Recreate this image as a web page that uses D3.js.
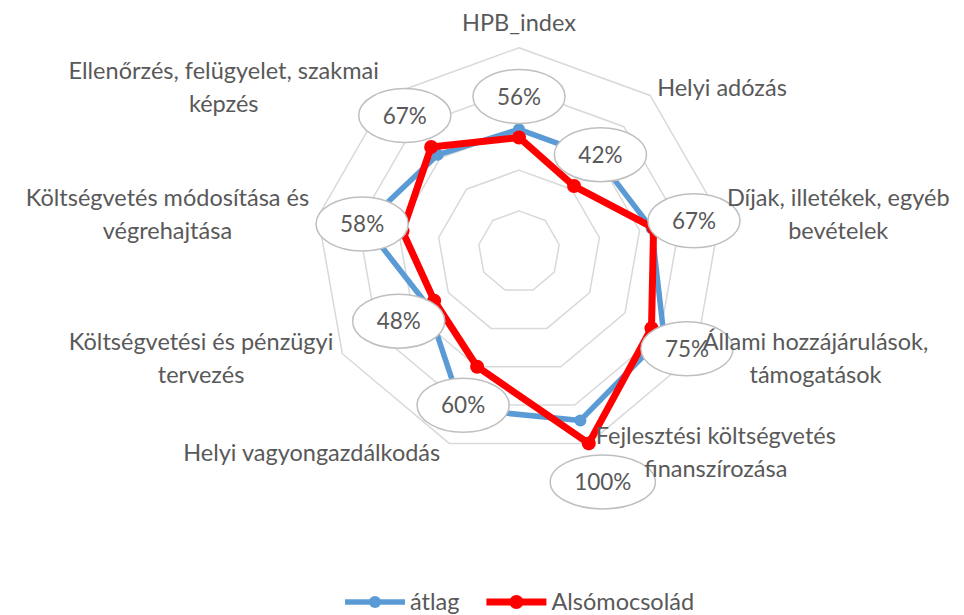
<!DOCTYPE html>
<html>
<head>
<meta charset="utf-8">
<style>
    body { margin: 0; background: #fff; }
    svg { display: block; }
    text { font-family: Lato, "Open Sans", sans-serif; fill: #595959; }
</style>
<script src="https://cdn.jsdelivr.net/npm/d3@7"></script>
</head>
<body>
<div id="chart"></div>
<script>
// categories, clockwise from the top
var categories = [
    ["HPB_index"],
    ["Helyi adózás"],
    ["Díjak, illetékek, egyéb", "bevételek"],
    ["Állami hozzájárulások,", "támogatások"],
    ["Fejlesztési költségvetés", "finanszírozása"],
    ["Helyi vagyongazdálkodás"],
    ["Költségvetési és pénzügyi", "tervezés"],
    ["Költségvetés módosítása és", "végrehajtása"],
    ["Ellenőrzés, felügyelet, szakmai", "képzés"]
];
var atlag = [0.60, 0.60, 0.66, 0.82, 0.88, 0.82, 0.52, 0.77, 0.62];
var alsomocsolad = [0.56, 0.42, 0.67, 0.75, 1.00, 0.60, 0.48, 0.58, 0.67];
var ringTicks = [0.2, 0.4, 0.6, 0.8, 1.0];
var seriesNames = ["átlag", "Alsómocsolád"];

var width = 964, height = 615;
var cx = 519, cy = 251.7, R = 204;
var labelSize = "23.5px", pctSize = "22.5px";

var svg = d3.select("#chart").append("svg")
    .attr("width", width)
    .attr("height", height);

var r = d3.scaleLinear().domain([0, 1]).range([0, R]);
var n = categories.length;
var angle = function (i) { return i * 2 * Math.PI / n; };

var g = svg.append("g").attr("transform", "translate(" + cx + "," + cy + ")");

// grid rings (nonagons)
var ringLine = d3.lineRadial()
    .angle(function (d, i) { return angle(i); })
    .radius(function (d) { return r(d); })
    .curve(d3.curveLinearClosed);

g.selectAll(".ring")
    .data(ringTicks)
    .enter().append("path")
    .attr("class", "ring")
    .attr("d", function (t) { return ringLine(d3.range(n).map(function () { return t; })); })
    .attr("fill", "none")
    .attr("stroke", "#d9d9d9")
    .attr("stroke-width", 1.5);

// series
var series = [
    { name: seriesNames[0], values: atlag, color: "#5b9bd5", lw: 5.5, mr: 6 },
    { name: seriesNames[1], values: alsomocsolad, color: "#ff0000", lw: 7, mr: 7 }
];

series.forEach(function (s) {
    g.append("path")
        .attr("d", ringLine(s.values))
        .attr("fill", "none")
        .attr("stroke", s.color)
        .attr("stroke-width", s.lw)
        .attr("stroke-linejoin", "round");
    g.selectAll(null)
        .data(s.values)
        .enter().append("circle")
        .attr("cx", function (d, i) { return r(d) * Math.sin(angle(i)); })
        .attr("cy", function (d, i) { return -r(d) * Math.cos(angle(i)); })
        .attr("r", s.mr)
        .attr("fill", s.color);
});

// data labels of the second series, in ellipses just outside the points
var fmt = d3.format(".0%");
var labels = g.selectAll(".dlabel")
    .data(alsomocsolad)
    .enter().append("g")
    .attr("class", "dlabel")
    .attr("transform", function (d, i) {
        var rr = r(d) + 41;
        return "translate(" + (rr * Math.sin(angle(i))) + "," + (-rr * Math.cos(angle(i))) + ")";
    });

labels.append("ellipse")
    .attr("fill", "#fff")
    .attr("stroke", "#bfbfbf")
    .attr("stroke-width", 1.5);

labels.append("text")
    .attr("text-anchor", "middle")
    .attr("dy", "0.36em")
    .style("font-size", pctSize)
    .text(function (d) { return fmt(d); });

labels.each(function () {
    var t = d3.select(this).select("text").node();
    var w = t.getComputedTextLength();
    d3.select(this).select("ellipse")
        .attr("rx", w / 2 + 24)
        .attr("ry", 27);
});

// category labels
var lineH = 33;
categories.forEach(function (lines, i) {
    var a = angle(i);
    var vx = R * Math.sin(a), vy = -R * Math.cos(a);
    var anchor, x, yc;
    if (Math.abs(Math.sin(a)) < 0.1) {
        anchor = "middle";
        x = vx;
        yc = vy - 25;
    } else {
        anchor = Math.sin(a) > 0 ? "start" : "end";
        x = vx + (Math.sin(a) > 0 ? 7 : -9);
        yc = vy - 10 * Math.cos(a);
    }
    var txt = g.append("text")
        .attr("text-anchor", anchor)
        .style("font-size", labelSize);
    var y0 = yc - (lines.length - 1) * lineH / 2 + 8;
    if (anchor === "middle") {
        lines.forEach(function (l, k) {
            txt.append("tspan").attr("x", x).attr("y", y0 + k * lineH).text(l);
        });
    } else {
        // multi-line blocks are centred on their widest line
        var tmp = [];
        lines.forEach(function (l, k) {
            tmp.push(txt.append("tspan").attr("y", y0 + k * lineH).text(l));
        });
        var widths = tmp.map(function (ts) { return ts.node().getComputedTextLength(); });
        var maxW = d3.max(widths);
        var mid = anchor === "start" ? x + maxW / 2 : x - maxW / 2;
        txt.attr("text-anchor", "middle");
        tmp.forEach(function (ts) { ts.attr("x", mid); });
    }
});

// legend
var legend = svg.append("g").attr("transform", "translate(0,602)");
var lx = 345;
series.forEach(function (s) {
    var item = legend.append("g").attr("transform", "translate(" + lx + ",0)");
    item.append("line")
        .attr("x1", 0).attr("x2", 60)
        .attr("stroke", s.color)
        .attr("stroke-width", s.lw);
    item.append("circle")
        .attr("cx", 30).attr("r", s.mr)
        .attr("fill", s.color);
    var t = item.append("text")
        .attr("x", 65).attr("y", 8)
        .style("font-size", labelSize)
        .text(s.name);
    lx += 65 + t.node().getComputedTextLength() + 27;
});
</script>
</body>
</html>
